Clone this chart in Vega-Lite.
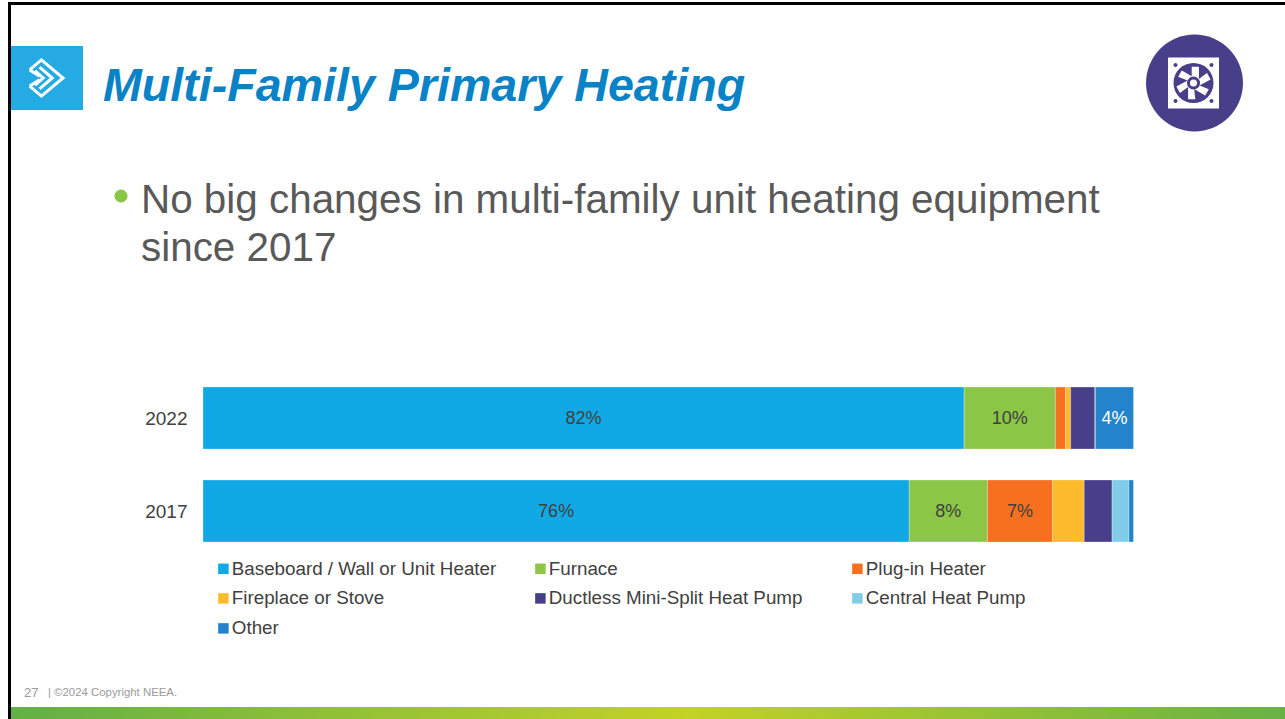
{
"$schema":"https://vega.github.io/schema/vega-lite/v6.json",
"width":1285,"height":719,"padding":0,"autosize":{"type":"none"},"background":"#ffffff",
"config":{"view":{"stroke":null},"font":"Liberation Sans"},
"title":{"text":"Multi-Family Primary Heating","anchor":"start","frame":"group","orient":"top","offset":-102,"dx":103,"dy":46,"baseline":"alphabetic","font":"Liberation Sans","fontSize":46.6,"fontWeight":"bold","fontStyle":"italic","color":"#0a82c6"},
"resolve":{"scale":{"x":"independent","y":"independent","color":"independent","size":"independent","shape":"independent"}},
"layer":[
{"data":{"values":[{"element":"slide decoration"}]},
"encoding":{},
"layer":[
{"mark":{"type":"rect","color":"#000000"},"encoding":{"x":{"datum":8,"type":"quantitative","scale":{"domain":[0,1285],"range":[0,1285],"nice":false},"axis":null},"x2":{"datum":1285},"y":{"datum":2,"type":"quantitative","scale":{"domain":[0,719],"range":[0,719],"nice":false},"axis":null},"y2":{"datum":5}}},
{"mark":{"type":"rect","color":"#000000"},"encoding":{"x":{"datum":8,"type":"quantitative","axis":null},"x2":{"datum":11},"y":{"datum":2,"type":"quantitative","axis":null},"y2":{"datum":719}}},
{"mark":{"type":"rect","color":{"gradient":"linear","x1":0,"x2":1,"y1":0,"y2":0,"stops":[{"offset":0,"color":"#62b045"},{"offset":0.53,"color":"#c3d225"},{"offset":1,"color":"#68b244"}]}},"encoding":{"x":{"datum":11,"type":"quantitative","axis":null},"x2":{"datum":1285},"y":{"datum":707,"type":"quantitative","axis":null},"y2":{"datum":719}}},
{"mark":{"type":"rect","color":"#25aae4"},"encoding":{"x":{"datum":11,"type":"quantitative","axis":null},"x2":{"datum":83},"y":{"datum":46,"type":"quantitative","axis":null},"y2":{"datum":110}}},
{"mark":{"type":"point","shape":"M-.85,-.45 L-.2,-1 L1,0 L-.2,1 L-.85,.45 M-.85,-.45 L-.3,-.1 M-.85,.45 L-.3,.1 M-.3,-.6 L.4,0 L-.3,.6 M-.55,-.4 L-.1,0 L-.55,.4","size":1300,"filled":false,"stroke":"#ffffff","strokeWidth":3,"opacity":1},"encoding":{"x":{"datum":45,"type":"quantitative","axis":null},"y":{"datum":78,"type":"quantitative","axis":null}}},
{"mark":{"type":"point","shape":"circle","size":9400,"filled":true,"color":"#483f8a","opacity":1},"encoding":{"x":{"datum":1194.5,"type":"quantitative","axis":null},"y":{"datum":83,"type":"quantitative","axis":null}}},
{"mark":{"type":"point","shape":"square","size":2600,"filled":true,"color":"#ffffff","opacity":1},"encoding":{"x":{"datum":1193.5,"type":"quantitative","axis":null},"y":{"datum":83,"type":"quantitative","axis":null}}},
{"mark":{"type":"point","shape":"circle","size":1600,"filled":true,"color":"#483f8a","opacity":1},"encoding":{"x":{"datum":1193.5,"type":"quantitative","axis":null},"y":{"datum":83,"type":"quantitative","axis":null}}},
{"mark":{"type":"point","shape":"M-.9,-.9 m-.1,0 a.1,.1 0 1,0 .2,0 a.1,.1 0 1,0 -.2,0 M.9,-.9 m-.1,0 a.1,.1 0 1,0 .2,0 a.1,.1 0 1,0 -.2,0 M-.9,.9 m-.1,0 a.1,.1 0 1,0 .2,0 a.1,.1 0 1,0 -.2,0 M.9,.9 m-.1,0 a.1,.1 0 1,0 .2,0 a.1,.1 0 1,0 -.2,0","size":1600,"filled":true,"color":"#483f8a","opacity":1},"encoding":{"x":{"datum":1193.5,"type":"quantitative","axis":null},"y":{"datum":83,"type":"quantitative","axis":null}}},
{"mark":{"type":"point","shape":"M-.1,-.9 L.3,-.9 L.3,-.2 L-.1,0 Z M.75,-.55 L.95,-.2 L.3,.15 L0,0 Z M.85,.35 L.65,.7 L.05,.35 L0,0 Z M.1,.9 L-.3,.9 L-.3,.2 L0,0 Z M-.75,.55 L-.95,.2 L-.3,-.15 L0,0 Z M-.85,-.35 L-.65,-.7 L-.05,-.35 L0,0 Z","size":1300,"filled":true,"color":"#ffffff","opacity":1},"encoding":{"x":{"datum":1193.5,"type":"quantitative","axis":null},"y":{"datum":83,"type":"quantitative","axis":null}}},
{"mark":{"type":"point","shape":"circle","size":170,"filled":true,"color":"#483f8a","opacity":1},"encoding":{"x":{"datum":1193.5,"type":"quantitative","axis":null},"y":{"datum":83,"type":"quantitative","axis":null}}},
{"mark":{"type":"point","shape":"circle","size":50,"filled":true,"color":"#ffffff","opacity":1},"encoding":{"x":{"datum":1193.5,"type":"quantitative","axis":null},"y":{"datum":83,"type":"quantitative","axis":null}}},
{"mark":{"type":"point","shape":"circle","size":170,"filled":true,"color":"#8bc646","opacity":1},"encoding":{"x":{"datum":121,"type":"quantitative","axis":null},"y":{"datum":196,"type":"quantitative","axis":null}}},
{"mark":{"type":"text","text":"No big changes in multi-family unit heating equipment\nsince 2017","lineBreak":"\n","lineHeight":47.5,"align":"left","baseline":"alphabetic","fontSize":40.4,"color":"#595959","font":"Liberation Sans"},"encoding":{"x":{"datum":141,"type":"quantitative","axis":null},"y":{"datum":213,"type":"quantitative","axis":null}}},
{"mark":{"type":"text","text":"27","align":"left","baseline":"alphabetic","fontSize":13,"color":"#9a9a9a"},"encoding":{"x":{"datum":24,"type":"quantitative","axis":null},"y":{"datum":697,"type":"quantitative","axis":null}}},
{"mark":{"type":"text","text":"|  ©2024 Copyright  NEEA.","align":"left","baseline":"alphabetic","fontSize":11.4,"color":"#9a9a9a"},"encoding":{"x":{"datum":48,"type":"quantitative","axis":null},"y":{"datum":696,"type":"quantitative","axis":null}}}
]},
{"data":{"values":[
{"year":"2022","category":"Baseboard / Wall or Unit Heater","rank":1,"share":81.8,"label":"82%"},
{"year":"2022","category":"Furnace","rank":2,"share":9.8,"label":"10%"},
{"year":"2022","category":"Plug-in Heater","rank":3,"share":1.1,"label":""},
{"year":"2022","category":"Fireplace or Stove","rank":4,"share":0.55,"label":""},
{"year":"2022","category":"Ductless Mini-Split Heat Pump","rank":5,"share":2.6,"label":""},
{"year":"2022","category":"Central Heat Pump","rank":6,"share":0.05,"label":""},
{"year":"2022","category":"Other","rank":7,"share":4.1,"label":"4%"},
{"year":"2017","category":"Baseboard / Wall or Unit Heater","rank":1,"share":75.9,"label":"76%"},
{"year":"2017","category":"Furnace","rank":2,"share":8.4,"label":"8%"},
{"year":"2017","category":"Plug-in Heater","rank":3,"share":7.0,"label":"7%"},
{"year":"2017","category":"Fireplace or Stove","rank":4,"share":3.4,"label":""},
{"year":"2017","category":"Ductless Mini-Split Heat Pump","rank":5,"share":3.0,"label":""},
{"year":"2017","category":"Central Heat Pump","rank":6,"share":1.8,"label":""},
{"year":"2017","category":"Other","rank":7,"share":0.5,"label":""}
]},
"encoding":{
"y":{"field":"year","type":"nominal","sort":["2022","2017"],"title":null,"scale":{"range":[371.5,557.5],"paddingInner":0.3333,"paddingOuter":0.1667},"axis":{"domain":false,"ticks":false,"offset":-187,"labelPadding":0,"labelFontSize":19,"labelColor":"#404040","labelFont":"Liberation Sans","labelOffset":1}},
"x":{"field":"share","type":"quantitative","stack":"zero","title":null,"scale":{"domain":[0,100],"nice":false,"range":[203,1133.5]},"axis":null},
"order":{"field":"rank","type":"quantitative"}
},
"layer":[
{"mark":{"type":"bar","stroke":"#ffffff","strokeOpacity":0.45,"strokeWidth":0.6},
"encoding":{"color":{"field":"category","type":"nominal","title":null,
"scale":{"domain":["Baseboard / Wall or Unit Heater","Furnace","Plug-in Heater","Fireplace or Stove","Ductless Mini-Split Heat Pump","Central Heat Pump","Other"],"range":["#10a9e6","#8bc646","#f6701f","#fdbb2b","#483f8a","#80cce9","#2384cb"]},
"legend":{"orient":"none","direction":"horizontal","legendX":214,"legendY":559,"columns":3,"gridAlign":"all","symbolType":"square","symbolSize":110,"symbolStrokeWidth":0,"symbolOpacity":1,"labelFontSize":18.8,"labelColor":"#404040","labelFont":"Liberation Sans","labelLimit":400,"labelOffset":-1,"columnPadding":34,"rowPadding":10}}}},
{"mark":{"type":"text","fontSize":18,"baseline":"middle","align":"center","dy":1,"font":"Liberation Sans"},
"encoding":{
"x":{"field":"share","type":"quantitative","stack":"zero","bandPosition":0.5},
"detail":{"field":"category"},
"text":{"field":"label"},
"color":{"condition":{"test":"datum.category === 'Other'","value":"#ffffff"},"value":"#404040"}}}
]}
]
}
